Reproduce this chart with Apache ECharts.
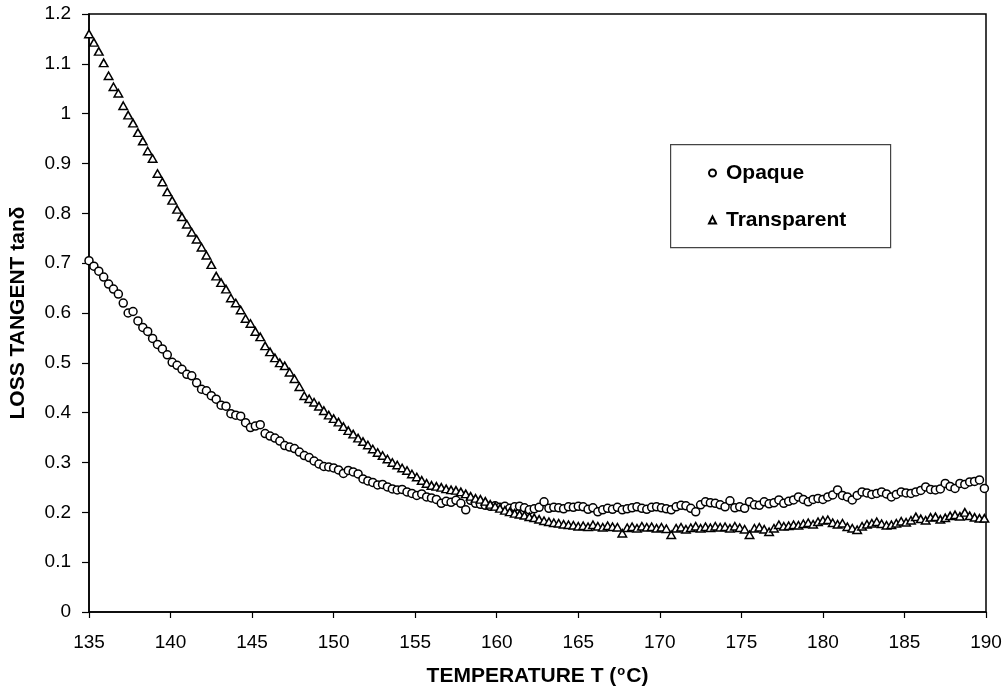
<!DOCTYPE html>
<html>
<head>
<meta charset="utf-8">
<script src="https://cdn.jsdelivr.net/npm/echarts@6/dist/echarts.min.js"></script>
<style>
html,body{margin:0;padding:0;background:#fff;}
#chart{width:1006px;height:692px;}
</style>
</head>
<body>
<div id="chart"></div>
<script>
var temperature = [
135.0,135.3,135.6,135.9,136.2,136.5,136.8,137.1,137.4,137.7,
138.0,138.3,138.6,138.9,139.2,139.5,139.8,140.1,140.4,140.7,
141.0,141.3,141.6,141.9,142.2,142.5,142.8,143.1,143.4,143.7,
144.0,144.3,144.6,144.9,145.2,145.5,145.8,146.1,146.4,146.7,
147.0,147.3,147.6,147.9,148.2,148.5,148.8,149.1,149.4,149.7,
150.0,150.3,150.6,150.9,151.2,151.5,151.8,152.1,152.4,152.7,
153.0,153.3,153.6,153.9,154.2,154.5,154.8,155.1,155.4,155.7,
156.0,156.3,156.6,156.9,157.2,157.5,157.8,158.1,158.4,158.7,
159.0,159.3,159.6,159.9,160.2,160.5,160.8,161.1,161.4,161.7,
162.0,162.3,162.6,162.9,163.2,163.5,163.8,164.1,164.4,164.7,
165.0,165.3,165.6,165.9,166.2,166.5,166.8,167.1,167.4,167.7,
168.0,168.3,168.6,168.9,169.2,169.5,169.8,170.1,170.4,170.7,
171.0,171.3,171.6,171.9,172.2,172.5,172.8,173.1,173.4,173.7,
174.0,174.3,174.6,174.9,175.2,175.5,175.8,176.1,176.4,176.7,
177.0,177.3,177.6,177.9,178.2,178.5,178.8,179.1,179.4,179.7,
180.0,180.3,180.6,180.9,181.2,181.5,181.8,182.1,182.4,182.7,
183.0,183.3,183.6,183.9,184.2,184.5,184.8,185.1,185.4,185.7,
186.0,186.3,186.6,186.9,187.2,187.5,187.8,188.1,188.4,188.7,
189.0,189.3,189.6,189.9
];

var opaque = [
0.705,0.694,0.684,0.672,0.658,0.648,0.638,0.620,0.600,0.603,
0.584,0.571,0.563,0.549,0.537,0.528,0.516,0.501,0.495,0.487,
0.477,0.474,0.460,0.447,0.444,0.434,0.427,0.415,0.413,0.398,
0.395,0.393,0.380,0.370,0.373,0.376,0.358,0.353,0.349,0.343,
0.334,0.331,0.328,0.321,0.314,0.310,0.303,0.297,0.292,0.291,
0.289,0.285,0.278,0.284,0.281,0.277,0.267,0.263,0.260,0.255,
0.256,0.251,0.247,0.245,0.246,0.241,0.238,0.234,0.237,0.231,
0.229,0.226,0.218,0.222,0.220,0.224,0.218,0.205,0.224,0.218,
0.216,0.214,0.212,0.213,0.210,0.212,0.208,0.211,0.212,0.209,
0.205,0.207,0.210,0.221,0.208,0.210,0.209,0.207,0.211,0.210,
0.212,0.211,0.206,0.209,0.201,0.205,0.208,0.206,0.210,0.205,
0.207,0.209,0.211,0.208,0.206,0.210,0.211,0.209,0.207,0.205,
0.211,0.214,0.213,0.208,0.201,0.215,0.221,0.219,0.218,0.215,
0.211,0.223,0.209,0.211,0.208,0.221,0.215,0.214,0.221,0.217,
0.219,0.225,0.218,0.222,0.225,0.231,0.226,0.221,0.226,0.228,
0.226,0.231,0.235,0.245,0.234,0.231,0.225,0.234,0.241,0.239,
0.236,0.238,0.241,0.237,0.231,0.236,0.241,0.239,0.238,0.241,
0.244,0.251,0.246,0.245,0.247,0.258,0.252,0.248,0.258,0.256,
0.261,0.262,0.265,0.248
];

var transparent = [
1.160,1.143,1.125,1.102,1.076,1.054,1.041,1.016,0.997,0.981,
0.962,0.945,0.925,0.910,0.880,0.863,0.843,0.826,0.808,0.793,
0.778,0.762,0.748,0.732,0.716,0.697,0.674,0.661,0.648,0.630,
0.620,0.606,0.589,0.579,0.563,0.552,0.534,0.522,0.510,0.500,
0.494,0.481,0.468,0.452,0.434,0.428,0.421,0.413,0.404,0.395,
0.388,0.381,0.372,0.364,0.357,0.349,0.342,0.335,0.327,0.320,
0.314,0.307,0.300,0.295,0.289,0.284,0.277,0.271,0.264,0.258,
0.254,0.252,0.250,0.247,0.245,0.244,0.241,0.237,0.232,0.228,
0.226,0.222,0.216,0.212,0.208,0.204,0.201,0.198,0.196,0.194,
0.191,0.189,0.186,0.183,0.181,0.179,0.178,0.176,0.175,0.174,
0.172,0.173,0.171,0.175,0.172,0.170,0.173,0.171,0.170,0.158,
0.169,0.171,0.168,0.172,0.170,0.171,0.168,0.170,0.167,0.155,
0.168,0.170,0.166,0.169,0.172,0.168,0.171,0.169,0.172,0.170,
0.171,0.168,0.172,0.169,0.166,0.155,0.168,0.170,0.166,0.161,
0.168,0.175,0.172,0.173,0.175,0.174,0.177,0.179,0.176,0.181,
0.184,0.185,0.179,0.176,0.178,0.171,0.168,0.165,0.172,0.176,
0.178,0.181,0.177,0.174,0.175,0.178,0.182,0.180,0.184,0.191,
0.187,0.184,0.190,0.191,0.186,0.189,0.193,0.195,0.192,0.200,
0.193,0.190,0.188,0.188
];

var seriesNames = ['Opaque', 'Transparent'];
var xTicks = {min: 135, max: 190, interval: 5};
var yTicks = {min: 0, max: 1.2, interval: 0.1};

function pairs(xs, ys) {
  var out = [];
  for (var i = 0; i < xs.length; i++) out.push([xs[i], ys[i]]);
  return out;
}

var FONT = '"Liberation Sans", Arial, sans-serif';
var chart = echarts.init(document.getElementById('chart'), null, {renderer: 'canvas'});

var hollow = {color: '#ffffff', borderColor: '#000000', borderWidth: 1.5, opacity: 1};

chart.setOption({
  backgroundColor: '#ffffff',
  animation: false,
  grid: {left: 88, right: 20, top: 14, bottom: 80, show: true, borderColor: '#000', borderWidth: 1.5, backgroundColor: 'transparent'},
  graphic: [{
    type: 'rect', left: 670, top: 144, z: 10,
    shape: {width: 220, height: 103},
    style: {fill: '#fff', stroke: '#444', lineWidth: 1.2}
  }],
  legend: {
    orient: 'vertical', left: 708, top: 161, z: 20, padding: 0,
    itemWidth: 7, itemHeight: 7, itemGap: 23,
    textStyle: {fontFamily: FONT, fontSize: 21, fontWeight: 'bold', color: '#000', lineHeight: 24, padding: [0, 0, 0, 5]},
    data: [
      {name: seriesNames[0], icon: 'circle'},
      {name: seriesNames[1], icon: 'triangle'}
    ]
  },
  xAxis: {
    type: 'value', min: xTicks.min, max: xTicks.max, interval: xTicks.interval,
    name: '{a|TEMPERATURE T (}{s|o}{a|C)}', nameLocation: 'middle', nameGap: 53,
    nameTextStyle: {
      rich: {
        a: {fontFamily: FONT, fontSize: 21, fontWeight: 'bold', color: '#000'},
        s: {fontFamily: FONT, fontSize: 13, fontWeight: 'bold', color: '#000', verticalAlign: 'top', padding: [0, 1, 10, 1]}
      }
    },
    axisLine: {show: true, lineStyle: {color: '#000', width: 1.5}},
    axisTick: {show: true, length: 6, lineStyle: {color: '#000', width: 1.2}},
    axisLabel: {fontFamily: FONT, fontSize: 19, color: '#000', margin: 21},
    splitLine: {show: false}
  },
  yAxis: {
    type: 'value', min: yTicks.min, max: yTicks.max, interval: yTicks.interval,
    name: 'LOSS TANGENT tanδ', nameLocation: 'middle', nameGap: 60, nameRotate: 90,
    nameTextStyle: {fontFamily: FONT, fontSize: 21, fontWeight: 'bold', color: '#000'},
    axisLine: {show: true, lineStyle: {color: '#000', width: 1.5}},
    axisTick: {show: true, length: 7, lineStyle: {color: '#000', width: 1.2}},
    axisLabel: {fontFamily: FONT, fontSize: 19, color: '#000', margin: 18},
    splitLine: {show: false}
  },
  series: [
    {
      name: seriesNames[0], type: 'scatter', symbol: 'circle', symbolSize: 8,
      itemStyle: hollow, data: pairs(temperature, opaque), z: 3
    },
    {
      name: seriesNames[1], type: 'scatter', symbol: 'triangle', symbolSize: [8.5, 7.5],
      itemStyle: hollow, data: pairs(temperature, transparent), z: 3
    }
  ]
});
</script>
</body>
</html>
